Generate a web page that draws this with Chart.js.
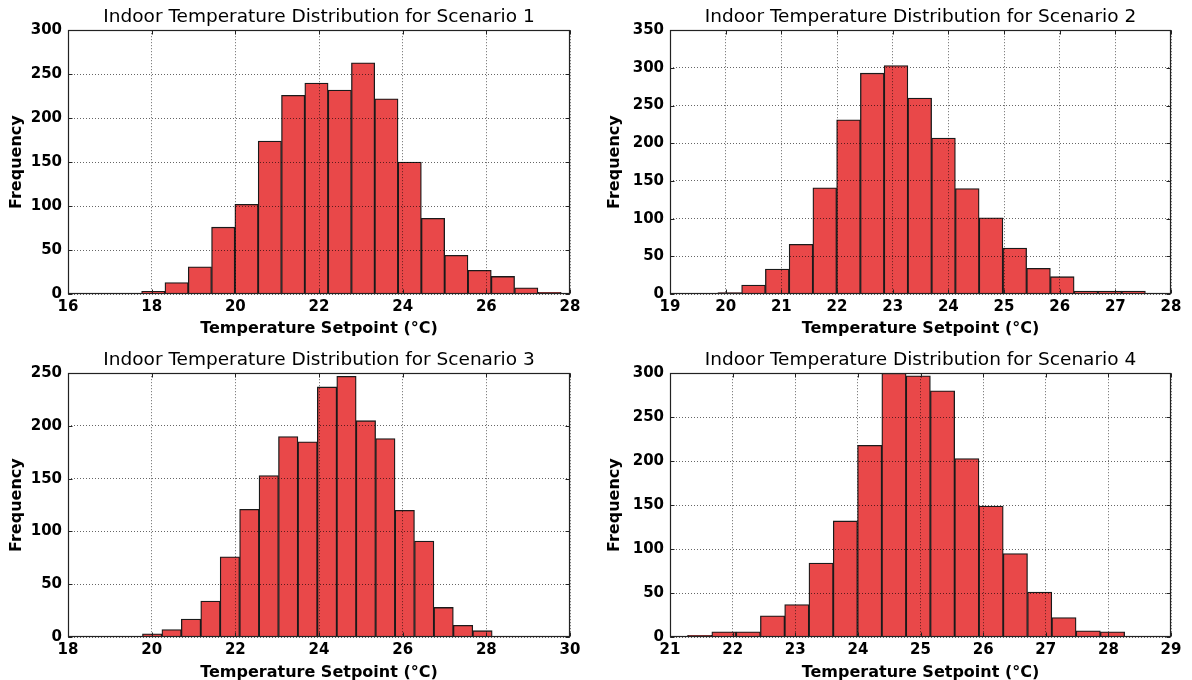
<!DOCTYPE html>
<html>
<head>
<meta charset="utf-8">
<script src="https://cdn.jsdelivr.net/npm/chart.js@4.4.0/dist/chart.umd.min.js"></script>
<style>
  body { margin: 0; background: #fff; overflow: hidden; }
  #wrap { position: relative; width: 1192px; height: 680px; overflow: hidden; }
  canvas { position: absolute; }
</style>
</head>
<body>
<div id="wrap">
  <canvas id="c1" width="596" height="340" style="left:0;top:0"></canvas>
  <canvas id="c2" width="596" height="340" style="left:596px;top:0"></canvas>
  <canvas id="c3" width="596" height="345" style="left:0;top:340px"></canvas>
  <canvas id="c4" width="596" height="345" style="left:596px;top:340px"></canvas>
</div>
<script>
// counts per bin (18 bins each)
let counts1 = [3, 13, 31, 76, 102, 174, 226, 240, 232, 263, 222, 150, 86, 44, 27, 20, 7, 2];
let counts2 = [2, 12, 33, 66, 141, 231, 293, 303, 260, 207, 140, 101, 61, 34, 23, 4, 4, 4];
let counts3 = [3, 7, 17, 34, 76, 121, 153, 190, 185, 237, 247, 205, 188, 120, 91, 28, 11, 6];
let counts4 = [2, 6, 6, 24, 37, 84, 132, 218, 300, 297, 280, 203, 149, 95, 51, 22, 7, 6];

// first and last bin edge
let binRange1 = [17.76, 27.79];
let binRange2 = [19.86, 27.54];
let binRange3 = [19.78, 28.14];
let binRange4 = [21.28, 28.26];

// axis limits and tick steps
let xAxis1 = [16, 28, 2];
let xAxis2 = [19, 28, 1];
let xAxis3 = [18, 30, 2];
let xAxis4 = [21, 29, 1];
let yAxis1 = [0, 300, 50];
let yAxis2 = [0, 350, 50];
let yAxis3 = [0, 250, 50];
let yAxis4 = [0, 300, 50];

let barColor = "#e94849";
let gridColor = "rgba(0,0,0,0.6)";
let font = "DejaVu Sans";

let toPoints = (range, counts) => {
  let w = (range[1] - range[0]) / counts.length;
  return counts.map((c, i) => ({ x: range[0] + (i + 0.5) * w, y: c }));
};

// matplotlib style box with inward ticks
let framePlugin = {
  id: "frame",
  afterDraw(chart) {
    let ctx = chart.ctx;
    let a = chart.chartArea;
    let l = Math.round(a.left) + 0.5, r = Math.round(a.right) - 0.5;
    let t = Math.round(a.top) + 0.5, b = Math.round(a.bottom) - 0.5;
    ctx.save();
    ctx.strokeStyle = "#222";
    ctx.lineWidth = 1.2;
    ctx.strokeRect(l, t, r - l, b - t);
    ctx.lineWidth = 1;
    ctx.beginPath();
    chart.scales.x.ticks.forEach((tk) => {
      let px = Math.round(chart.scales.x.getPixelForValue(tk.value)) + 0.5;
      ctx.moveTo(px, b); ctx.lineTo(px, b - 4);
      ctx.moveTo(px, t); ctx.lineTo(px, t + 4);
    });
    chart.scales.y.ticks.forEach((tk) => {
      let py = Math.round(chart.scales.y.getPixelForValue(tk.value)) + 0.5;
      ctx.moveTo(l, py); ctx.lineTo(l + 4, py);
      ctx.moveTo(r, py); ctx.lineTo(r - 4, py);
    });
    ctx.stroke();
    ctx.restore();
  },
};

let makeChart = (id, n, range, counts, xa, ya, box) => {
  new Chart(document.getElementById(id), {
    type: "bar",
    data: {
      datasets: [
        {
          data: toPoints(range, counts),
          backgroundColor: barColor,
          borderColor: "#1a1a1a",
          borderWidth: 1.3,
          barPercentage: 1,
          categoryPercentage: 1,
        },
      ],
    },
    plugins: [framePlugin],
    options: {
      responsive: false,
      animation: false,
      layout: { padding: { left: 0, right: box.right, top: 0, bottom: 0 } },
      plugins: {
        legend: { display: false },
        tooltip: { enabled: false },
        title: {
          display: true,
          fullSize: false,
          text: "Indoor Temperature Distribution for Scenario " + n,
          color: "#000",
          font: { family: font, size: 18.5, weight: "normal" },
          padding: { top: box.titleTop, bottom: 2 },
        },
      },
      scales: {
        x: {
          type: "linear",
          min: xa[0],
          max: xa[1],
          offset: false,
          ticks: {
            stepSize: xa[2],
            color: "#000",
            padding: 4,
            maxRotation: 0,
            font: { family: font, size: 15, weight: "bold" },
          },
          grid: { color: gridColor, drawTicks: false, offset: false, z: 1 },
          border: { display: false, dash: [1, 2] },
          title: {
            display: true,
            text: "Temperature Setpoint (°C)",
            color: "#000",
            font: { family: font, size: 16, weight: "bold" },
            padding: { top: 0, bottom: box.xTitleBottom },
          },
          afterFit: (s) => { s.height = box.xHeight; },
        },
        y: {
          min: ya[0],
          max: ya[1],
          ticks: {
            stepSize: ya[2],
            color: "#000",
            padding: 6,
            font: { family: font, size: 15, weight: "bold" },
          },
          grid: { color: gridColor, drawTicks: false, z: 1 },
          border: { display: false, dash: [1, 2] },
          title: {
            display: true,
            text: "Frequency",
            color: "#000",
            font: { family: font, size: 16, weight: "bold" },
            padding: { top: box.yTitleTop, bottom: 0 },
          },
          afterFit: (s) => { s.width = box.yWidth; },
        },
      },
    },
  });
};

makeChart("c1", 1, binRange1, counts1, xAxis1, yAxis1,
  { right: 26, yWidth: 68, yTitleTop: 7, xHeight: 46, xTitleBottom: 2, titleTop: 6 });
makeChart("c2", 2, binRange2, counts2, xAxis2, yAxis2,
  { right: 21, yWidth: 74, yTitleTop: 9, xHeight: 46, xTitleBottom: 2, titleTop: 6 });
makeChart("c3", 3, binRange3, counts3, xAxis3, yAxis3,
  { right: 26, yWidth: 68, yTitleTop: 7, xHeight: 48, xTitleBottom: 3, titleTop: 9 });
makeChart("c4", 4, binRange4, counts4, xAxis4, yAxis4,
  { right: 21, yWidth: 74, yTitleTop: 9, xHeight: 48, xTitleBottom: 3, titleTop: 9 });
</script>
</body>
</html>
